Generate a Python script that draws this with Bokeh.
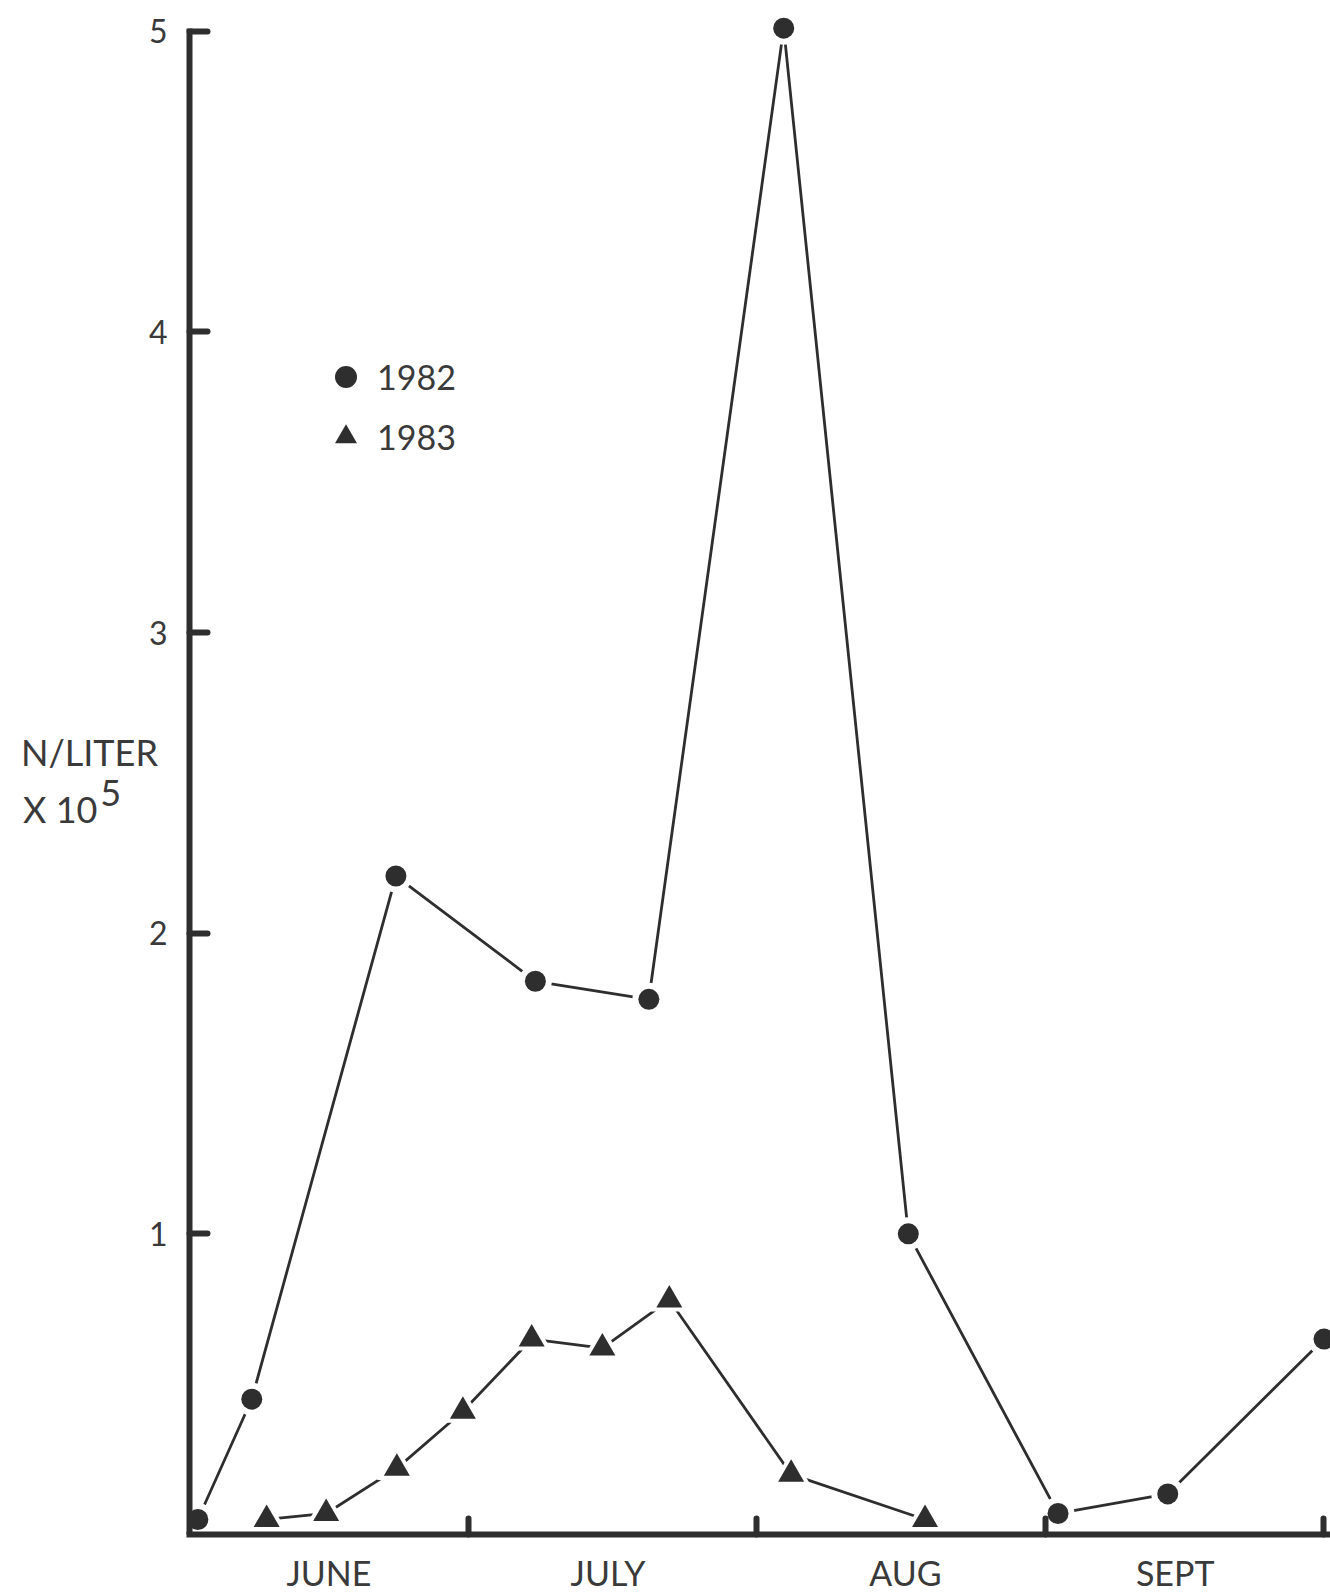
from bokeh.plotting import figure
from bokeh.models import Range1d, FixedTicker, Label, Legend, LegendItem
from bokeh.embed import file_html
from bokeh.resources import INLINE

# Season axis: days counted from 1 June
months = ["JUNE", "JULY", "AUG", "SEPT"]
month_label_days = [15, 45, 77, 106]
month_boundary_days = [30, 61, 92, 122]

# 1982 samples
day_1982 = [0.9, 6.7, 22.2, 37.2, 49.4, 63.9, 77.3, 93.4, 105.2, 122.0]
n_1982 = [0.05, 0.45, 2.19, 1.84, 1.78, 5.01, 1.0, 0.07, 0.135, 0.65]

# 1983 samples
day_1983 = [8.3, 14.7, 22.3, 29.4, 36.8, 44.4, 51.6, 64.7, 79.1]
n_1983 = [0.05, 0.07, 0.22, 0.41, 0.65, 0.62, 0.78, 0.2, 0.05]

y_ticks = [1, 2, 3, 4, 5]

INK = "#2e2e2e"
TEXT = "#3a3a3a"
FONT = "Lato"

# the frame spans the full width; the y axis is pinned at day 0
p = figure(width=1330, height=1595, output_backend="svg", toolbar_location=None,
           x_range=Range1d(-20.32, 122.7), y_range=Range1d(0, 5.102),
           min_border_left=0, min_border_right=0, min_border_top=0,
           min_border_bottom=51, background_fill_color="white",
           border_fill_color="white", outline_line_color=None)
p.grid.visible = False

# x axis: month names between boundary ticks
xa = p.xaxis[0]
xa.ticker = FixedTicker(ticks=month_label_days, minor_ticks=month_boundary_days)
xa.major_label_overrides = {d: m for d, m in zip(month_label_days, months)}
xa.bounds = (0, 122.7)
xa.major_tick_line_color = None
xa.minor_tick_in = 16
xa.minor_tick_out = 0
xa.minor_tick_line_width = 6
xa.minor_tick_line_color = INK
xa.minor_tick_line_cap = "round"
xa.axis_line_width = 6
xa.axis_line_color = INK
xa.axis_line_cap = "square"
xa.major_label_text_font = FONT
xa.major_label_text_font_size = "34px"
xa.major_label_text_color = TEXT
xa.major_label_standoff = 11

# y axis
ya = p.yaxis[0]
ya.fixed_location = 0
ya.ticker = FixedTicker(ticks=y_ticks, minor_ticks=[])
ya.bounds = (0, 5)
ya.major_tick_in = 18
ya.major_tick_out = 0
ya.major_tick_line_width = 6
ya.major_tick_line_color = INK
ya.major_tick_line_cap = "round"
ya.minor_tick_line_color = None
ya.axis_line_width = 6
ya.axis_line_color = INK
ya.axis_line_cap = "square"
ya.major_label_text_font = FONT
ya.major_label_text_font_size = "32px"
ya.major_label_text_color = TEXT
ya.major_label_standoff = 22

# connecting lines
p.line(day_1982, n_1982, line_color=INK, line_width=2.8)
p.line(day_1983, n_1983, line_color=INK, line_width=2.8)

# white halos leave a small gap between lines and markers
p.scatter(day_1982, n_1982, marker="circle", size=33, fill_color="white", line_color=None)
p.scatter(day_1983, n_1983, marker="triangle", size=40, fill_color="white", line_color=None)

r82 = p.scatter(day_1982, n_1982, marker="circle", size=21, fill_color=INK, line_color=None)
r83 = p.scatter(day_1983, n_1983, marker="triangle", size=26, fill_color=INK, line_color=None)

legend = Legend(items=[LegendItem(label="1982", renderers=[r82]),
                       LegendItem(label="1983", renderers=[r83])],
                location=(318, 1070), glyph_width=55, glyph_height=55, spacing=5,
                padding=0, margin=0, border_line_color=None, background_fill_alpha=0,
                label_text_font=FONT, label_text_font_size="34px",
                label_text_color=TEXT, label_standoff=4)
p.add_layout(legend)

# y axis title, left of the axis
title_style = dict(text_font=FONT, text_font_size="36px", text_color=TEXT,
                   text_baseline="alphabetic")
p.add_layout(Label(x=-10.75, y=2.604, text="N/LITER", text_align="center", **title_style))
p.add_layout(Label(x=-9.9, y=2.412, text="X 10", text_align="right", **title_style))
p.add_layout(Label(x=-9.6, y=2.467, text="5", text_align="left", **title_style))

open("out.html", "w").write(file_html(p, INLINE))
